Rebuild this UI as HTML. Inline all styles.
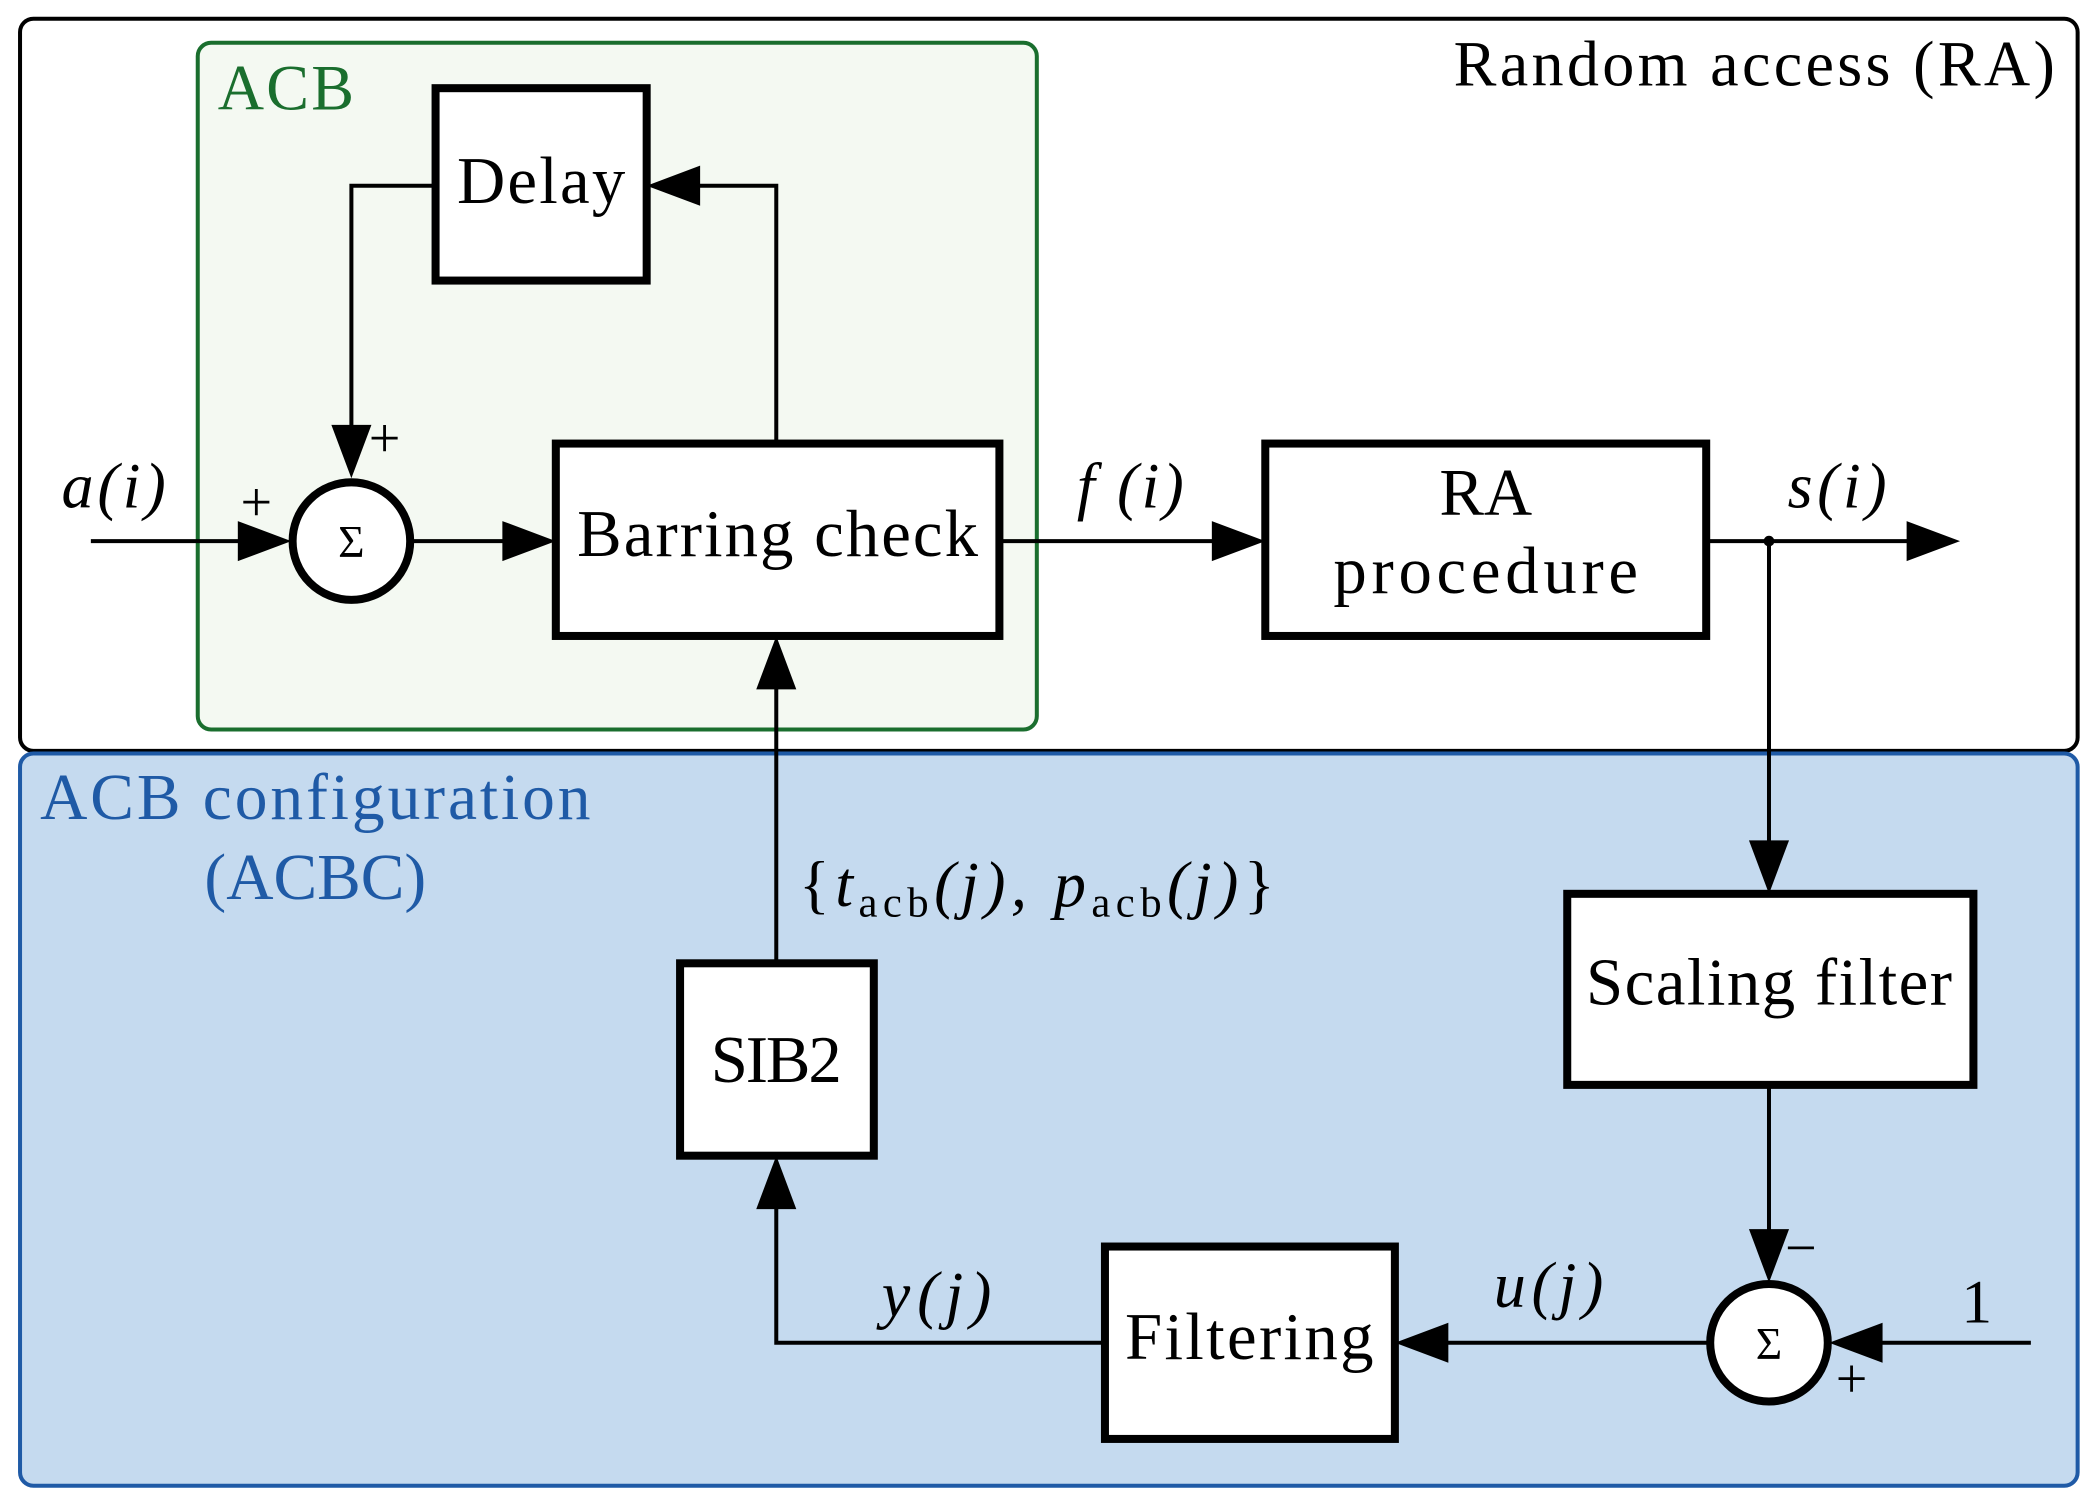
<!DOCTYPE html>
<html><head><meta charset="utf-8"><style>
html,body{margin:0;padding:0;background:#fff}
svg{display:block}
text{font-family:"Liberation Serif",serif}
</style></head><body>
<svg width="2095" height="1504" viewBox="0 0 1568 1125.7" preserveAspectRatio="none" xmlns="http://www.w3.org/2000/svg">
<rect x="15" y="14" width="1540" height="548" rx="10" fill="#fff" stroke="#000" stroke-width="3"/>
<rect x="15" y="564" width="1540" height="548" rx="10" fill="#c5daef" stroke="#1f5aa6" stroke-width="3"/>
<rect x="148" y="32" width="628" height="514" rx="10" fill="#f4f9f2" stroke="#1a6e2e" stroke-width="3"/>
<text x="1538" y="64" font-size="48" text-anchor="end" textLength="450">Random access (RA)</text>
<text x="163" y="82" font-size="48" fill="#1a6e2e" textLength="102">ACB</text>
<text x="30" y="613" font-size="49" fill="#1f5aa6" textLength="412">ACB configuration</text>
<text x="236" y="673" font-size="49" fill="#1f5aa6" text-anchor="middle">(ACBC)</text>
<g fill="none" stroke="#000" stroke-width="3">
<path d="M68 405H182"/><path d="M308 405H380"/>
<path d="M581 332V139H520"/><path d="M326 139H263V322"/>
<path d="M748 405H911"/><path d="M1277 405H1429"/>
<path d="M1324 405V633"/><path d="M1324 812V922"/>
<path d="M1520 1005H1407"/><path d="M1279 1005H1080"/>
<path d="M827 1005H581V901"/><path d="M581 721V512"/>
</g>
<g fill="#000">
<polygon points="218,405 178,390 178,420"/>
<polygon points="416,405 376,390 376,420"/>
<polygon points="484,139 524,124 524,154"/>
<polygon points="263,358 248,318 278,318"/>
<polygon points="947,405 907,390 907,420"/>
<polygon points="1467,405 1427,390 1427,420"/>
<polygon points="1324,669 1309,629 1339,629"/>
<polygon points="1324,960 1309,920 1339,920"/>
<polygon points="1369,1005 1409,990 1409,1020"/>
<polygon points="1044,1005 1084,990 1084,1020"/>
<polygon points="581,865 566,905 596,905"/>
<polygon points="581,476 566,516 596,516"/>
<circle cx="1324" cy="405" r="4"/>
</g>
<g fill="#fff" stroke="#000" stroke-width="6">
<rect x="326" y="66" width="158" height="144"/>
<rect x="416" y="332" width="332" height="144"/>
<rect x="947" y="332" width="330" height="144"/>
<rect x="1173" y="669" width="304" height="143"/>
<rect x="509" y="721" width="145" height="144"/>
<rect x="827" y="933" width="217" height="144"/>
<circle cx="263" cy="405" r="44"/>
<circle cx="1324" cy="1005" r="44"/>
</g>
<g font-size="50" text-anchor="middle">
<text x="405" y="152" textLength="126">Delay</text>
<text x="582" y="416" textLength="300">Barring check</text>
<text x="1112" y="385">RA</text>
<text x="1112" y="444" textLength="228">procedure</text>
<text x="1324" y="752" textLength="274">Scaling filter</text>
<text x="581" y="810" textLength="98">SIB2</text>
<text x="935" y="1017" textLength="186">Filtering</text>
<text x="263" y="417" font-size="34">Σ</text>
<text x="1324" y="1017" font-size="34">Σ</text>
</g>
<g font-size="48" font-style="italic">
<text x="46" y="380" textLength="78">a(i)</text>
<text x="806" y="380" textLength="80">f (i)</text>
<text x="1338" y="380" textLength="74">s(i)</text>
<text x="660" y="985" textLength="82">y(j)</text>
<text x="1118" y="978" textLength="82">u(j)</text>
<text x="598" y="678" textLength="356"><tspan font-style="normal">{</tspan>t<tspan font-size="32" font-style="normal" dy="8">acb</tspan><tspan dy="-8">(j), p</tspan><tspan font-size="32" font-style="normal" dy="8">acb</tspan><tspan dy="-8">(j)</tspan><tspan font-style="normal">}</tspan></text>
</g>
<g font-size="42">
<text x="180" y="390">+</text>
<text x="276" y="342">+</text>
<text x="1336" y="948">−</text>
<text x="1374" y="1046">+</text>
<text x="1468" y="990" font-size="46">1</text>
</g>
</svg>
</body></html>
